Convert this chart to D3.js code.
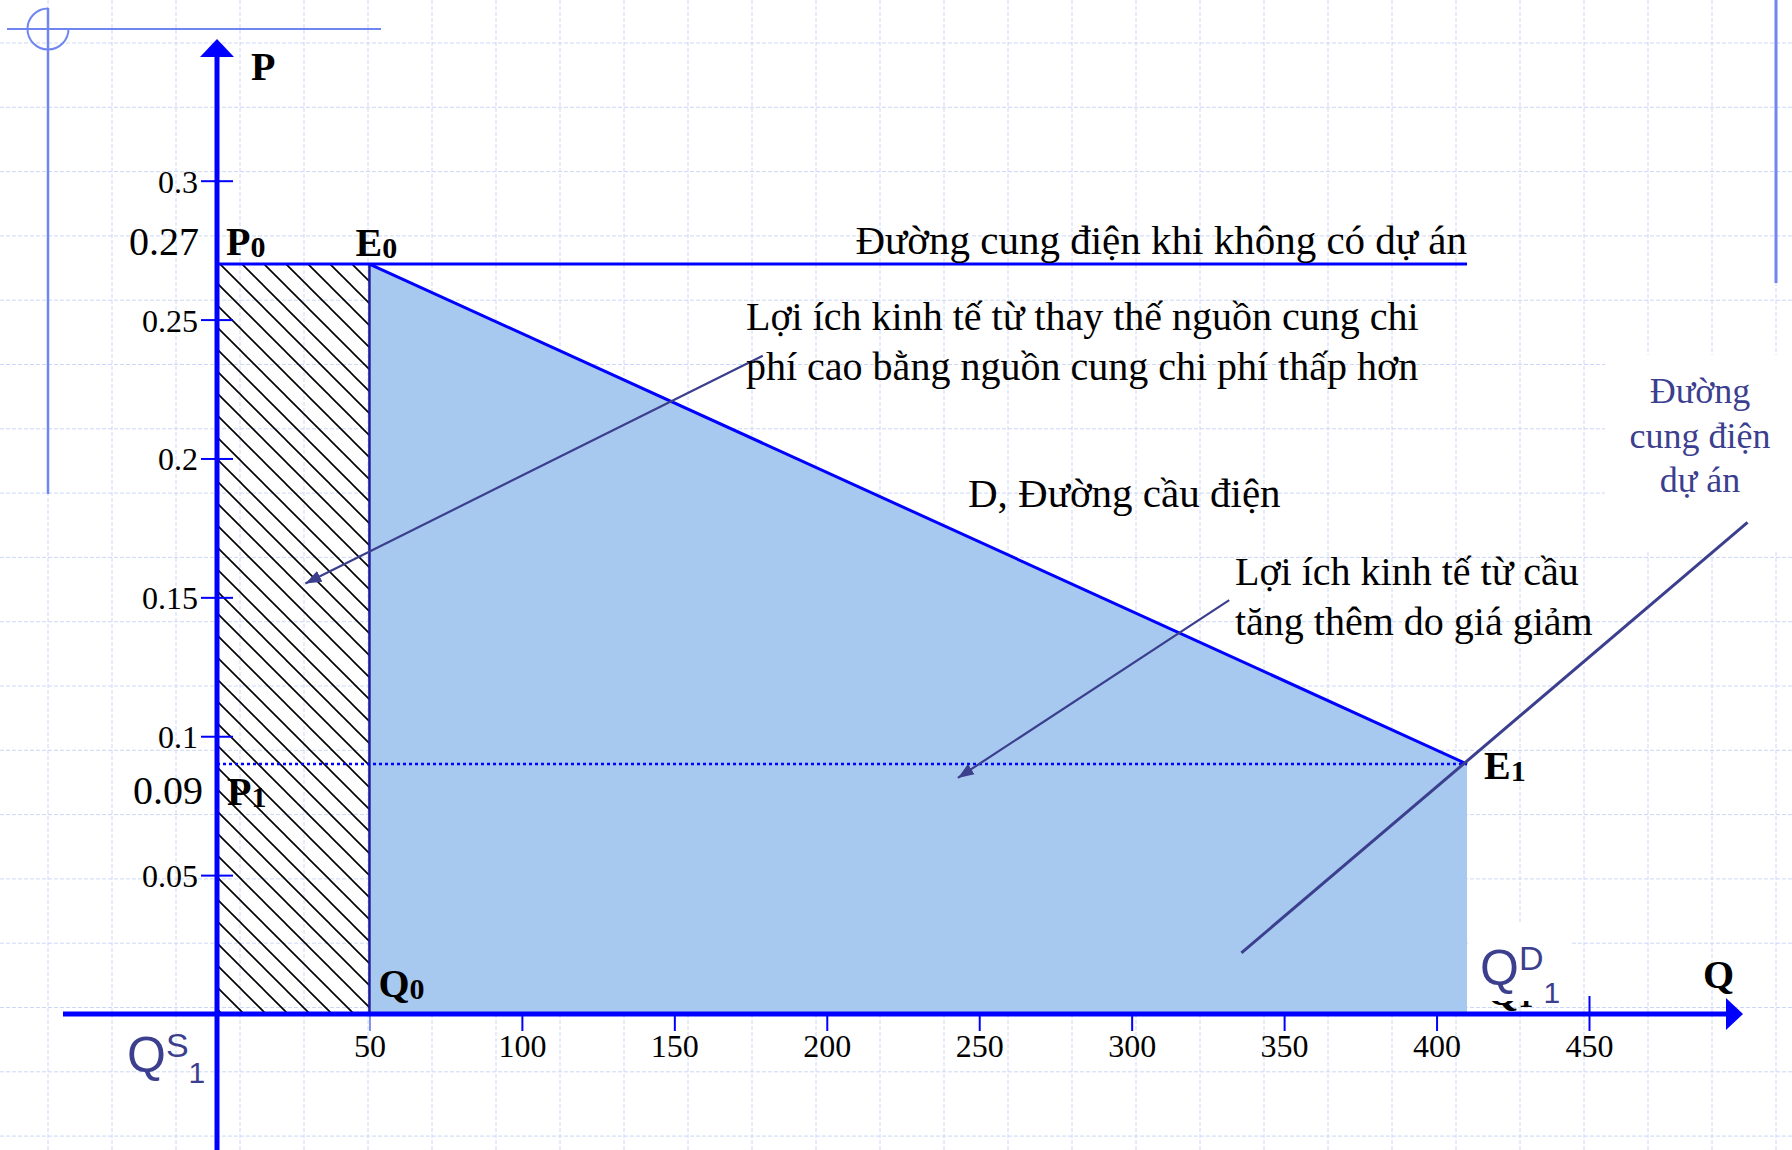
<!DOCTYPE html>
<html lang="vi">
<head>
<meta charset="UTF-8">
<title>Lợi ích kinh tế của dự án điện</title>
<style>
  html, body { margin: 0; padding: 0; background: #fff; }
  svg { display: block; }
  text { font-family: "Liberation Serif", "Times New Roman", serif; fill: #000; }
</style>
</head>
<body>
<svg id="chart" width="1792" height="1150"></svg>
<script src="https://d3js.org/d3.v7.min.js"></script>
<script>
// ---- data ----
var xTicks = [50, 100, 150, 200, 250, 300, 350, 400, 450];
var yTicks = [0.05, 0.1, 0.15, 0.2, 0.25, 0.3];
var priceLevels = [0.27, 0.09];        // P0, P1
var priceLabels = ['0.27', '0.09'];
var quantityLevels = [50, 410];        // Q0, Q1
var demandLine = [[50, 0.27], [410, 0.09]];
var projectSupply = [[336, 0.022], [502, 0.177]];
var arrowFrom = [[179, 0.237], [332, 0.149]];
var arrowTo = [[29, 0.155], [243, 0.085]];

var noProjectLabel = 'Đường cung điện khi không có dự án';
var demandLabel = 'D, Đường cầu điện';
var note1 = ['Lợi ích kinh tế từ thay thế nguồn cung chi', 'phí cao bằng nguồn cung chi phí thấp hơn'];
var note2 = ['Lợi ích kinh tế từ cầu', 'tăng thêm do giá giảm'];
var projectLabel = ['Đường', 'cung điện', 'dự án'];

var BLUE = '#0000ff', NAVY = '#1c1c9c', SLATE = '#3b3f8e', DECO = '#6f86f2';

var svg = d3.select('#chart');
var x = d3.scaleLinear().domain([0, 450]).range([217, 1589]);
var y = d3.scaleLinear().domain([0, 0.3]).range([1014, 180.7]);

svg.append('rect').attr('width', 1792).attr('height', 1150).attr('fill', '#fff');

// background grid of the slide
var grid = svg.append('g').attr('stroke', '#ccd8f7').attr('stroke-width', 1).attr('stroke-dasharray', '4,2');
d3.range(48, 1792, 64).forEach(function(gx) {
    grid.append('line').attr('x1', gx).attr('x2', gx).attr('y1', 0).attr('y2', 1150);
});
d3.range(43, 1150, 64.3).forEach(function(gy) {
    grid.append('line').attr('x1', 0).attr('x2', 1792).attr('y1', gy).attr('y2', gy);
});

// slide decorations
svg.append('line').attr('x1', 7).attr('x2', 381).attr('y1', 29).attr('y2', 29).attr('stroke', DECO).attr('stroke-width', 2);
svg.append('line').attr('x1', 48).attr('x2', 48).attr('y1', 8).attr('y2', 494).attr('stroke', DECO).attr('stroke-width', 2.5);
svg.append('path').attr('d', 'M48,8.5 A20.5,20.5 0 1 0 68.5,29').attr('fill', 'none').attr('stroke', DECO).attr('stroke-width', 2);
svg.append('line').attr('x1', 1776).attr('x2', 1776).attr('y1', 0).attr('y2', 283).attr('stroke', DECO).attr('stroke-width', 3);

// white text box that hides the grid
svg.append('rect').attr('x', 1605).attr('y', 355).attr('width', 187).attr('height', 195).attr('fill', '#fff');

var defs = svg.append('defs');
defs.append('pattern').attr('id', 'hatch').attr('patternUnits', 'userSpaceOnUse')
    .attr('width', 22).attr('height', 22)
  .append('path').attr('d', 'M0,0 L22,22 M-11,11 L11,33 M11,-11 L33,11')
    .attr('stroke', '#000').attr('stroke-width', 1.6);
defs.append('marker').attr('id', 'head').attr('markerUnits', 'userSpaceOnUse')
    .attr('markerWidth', 18).attr('markerHeight', 14).attr('refX', 16).attr('refY', 7)
    .attr('orient', 'auto')
  .append('path').attr('d', 'M0,1 L16,7 L0,13 Z').attr('fill', SLATE);

// consumer-gain area under demand
var area = [demandLine[0], demandLine[1], [quantityLevels[1], 0], [quantityLevels[0], 0]];
svg.append('path')
    .attr('d', 'M' + area.map(function(d) { return x(d[0]) + ',' + y(d[1]); }).join('L') + 'Z')
    .attr('fill', '#a7c9ef');

// hatched cost-saving area
svg.append('rect')
    .attr('x', x(0)).attr('y', y(priceLevels[0]))
    .attr('width', x(quantityLevels[0]) - x(0))
    .attr('height', y(0) - y(priceLevels[0]))
    .attr('fill', 'url(#hatch)');
svg.append('line')
    .attr('x1', x(quantityLevels[0])).attr('x2', x(quantityLevels[0]))
    .attr('y1', y(priceLevels[0])).attr('y2', y(0))
    .attr('stroke', NAVY).attr('stroke-width', 2.5);

// supply without project (P0) and dotted P1
svg.append('line')
    .attr('x1', x(0)).attr('x2', x(quantityLevels[1]))
    .attr('y1', y(priceLevels[0])).attr('y2', y(priceLevels[0]))
    .attr('stroke', BLUE).attr('stroke-width', 3);
svg.append('line')
    .attr('x1', x(0)).attr('x2', x(quantityLevels[1]))
    .attr('y1', y(priceLevels[1])).attr('y2', y(priceLevels[1]))
    .attr('stroke', BLUE).attr('stroke-width', 2.5).attr('stroke-dasharray', '3,3');

var line = d3.line().x(function(d) { return x(d[0]); }).y(function(d) { return y(d[1]); });
svg.append('path').datum(demandLine).attr('d', line)
    .attr('fill', 'none').attr('stroke', BLUE).attr('stroke-width', 3);
svg.append('path').datum(projectSupply).attr('d', line)
    .attr('fill', 'none').attr('stroke', SLATE).attr('stroke-width', 3);

// annotation arrows
arrowFrom.forEach(function(d, i) {
    svg.append('line')
        .attr('x1', x(d[0])).attr('y1', y(d[1]))
        .attr('x2', x(arrowTo[i][0])).attr('y2', y(arrowTo[i][1]))
        .attr('stroke', SLATE).attr('stroke-width', 2.2)
        .attr('marker-end', 'url(#head)');
});

// axes
var yAxis = svg.append('g').attr('transform', 'translate(' + x(0) + ',0)')
    .call(d3.axisLeft(y).tickValues(yTicks).tickSizeInner(16).tickSizeOuter(0).tickPadding(3).tickFormat(d3.format('')));
yAxis.select('.domain').remove();
yAxis.selectAll('.tick line').attr('x1', 16).attr('stroke', BLUE).attr('stroke-width', 2);
yAxis.selectAll('.tick text').attr('font-family', '"Liberation Serif", serif').attr('font-size', 32).attr('dy', '0.36em').attr('fill', '#000');

var xAxis = svg.append('g').attr('transform', 'translate(0,' + y(0) + ')')
    .call(d3.axisBottom(x).tickValues(xTicks).tickSizeInner(17).tickSizeOuter(0).tickPadding(0));
xAxis.select('.domain').remove();
xAxis.selectAll('.tick line').attr('stroke', function(d) { return d === 50 ? '#7f8ff0' : BLUE; })
    .attr('stroke-width', 2).attr('y1', function(d) { return d === 450 ? -18 : 0; });
xAxis.selectAll('.tick text').attr('font-family', '"Liberation Serif", serif').attr('font-size', 32)
    .attr('y', 43).attr('dy', 0).attr('fill', '#000');

svg.append('line').attr('x1', x(0)).attr('x2', x(0)).attr('y1', 54).attr('y2', 1150)
    .attr('stroke', BLUE).attr('stroke-width', 5);
svg.append('path').attr('d', 'M' + x(0) + ',39 L' + (x(0) + 17) + ',57 L' + (x(0) - 17) + ',57 Z').attr('fill', BLUE);
svg.append('line').attr('x1', 63).attr('x2', 1730).attr('y1', y(0)).attr('y2', y(0))
    .attr('stroke', BLUE).attr('stroke-width', 5);
svg.append('path').attr('d', 'M1743,' + y(0) + ' L1726,' + (y(0) - 16) + ' L1726,' + (y(0) + 16) + ' Z').attr('fill', BLUE);

// price level labels on the axis
svg.append('text').attr('x', 199).attr('y', y(priceLevels[0]) - 9).attr('text-anchor', 'end')
    .attr('font-size', 40).text(priceLabels[0]);
svg.append('text').attr('x', 203).attr('y', y(priceLevels[1]) + 40).attr('text-anchor', 'end')
    .attr('font-size', 40).text(priceLabels[1]);

// bold point labels
function pointLabel(px, py, main, sub) {
    var t = svg.append('text').attr('x', px).attr('y', py).attr('font-weight', 'bold').attr('font-size', 40).text(main);
    if (sub) t.append('tspan').attr('font-size', 30).attr('dy', 2).text(sub);
    return t;
}
pointLabel(251, 80, 'P');
pointLabel(x(0) + 9, y(priceLevels[0]) - 9, 'P', '0');
pointLabel(x(quantityLevels[0]) - 14, y(priceLevels[0]) - 8, 'E', '0');
pointLabel(x(0) + 10, y(priceLevels[1]) + 41, 'P', '1');
pointLabel(x(quantityLevels[1]) + 17, y(priceLevels[1]) + 15, 'E', '1');
pointLabel(x(quantityLevels[0]) + 9, y(0) - 17, 'Q', '0');
pointLabel(1703, 988, 'Q');

// Q1 label mostly covered by the white box of Q^D_1 (only its foot shows)
svg.append('clipPath').attr('id', 'foot').append('rect').attr('x', 1470).attr('y', 1000).attr('width', 110).attr('height', 12);
pointLabel(1487, 1005, 'Q', '1').attr('clip-path', 'url(#foot)');
svg.append('rect').attr('x', 1470).attr('y', 922).attr('width', 102).attr('height', 79).attr('fill', '#fff');

function sansQ(px, base, sup, subBase) {
    var t = svg.append('text').attr('x', px).attr('y', base)
        .style('font-family', '"Liberation Sans", Arial, sans-serif').attr('font-size', 50).style('fill', SLATE).text('Q');
    t.append('tspan').attr('font-size', 34).attr('dy', -15).text(sup);
    t.append('tspan').attr('font-size', 30).attr('dy', subBase).text('1');
}
sansQ(127, 1072, 'S', 26);
sansQ(1480, 985, 'D', 33);

// curve labels and notes
svg.append('text').attr('x', x(quantityLevels[1])).attr('y', y(priceLevels[0]) - 10)
    .attr('text-anchor', 'end').attr('font-size', 41).text(noProjectLabel);
svg.append('text').attr('x', 968).attr('y', 507).attr('font-size', 41).text(demandLabel);
note1.forEach(function(s, i) {
    svg.append('text').attr('x', 746).attr('y', 330 + i * 50).attr('font-size', 40).text(s);
});
note2.forEach(function(s, i) {
    svg.append('text').attr('x', 1235).attr('y', 585 + i * 50).attr('font-size', 40).text(s);
});
projectLabel.forEach(function(s, i) {
    svg.append('text').attr('x', 1700).attr('y', 403 + i * 44.5).attr('text-anchor', 'middle')
        .attr('font-size', 36).style('fill', SLATE).text(s);
});
</script>
</body>
</html>
